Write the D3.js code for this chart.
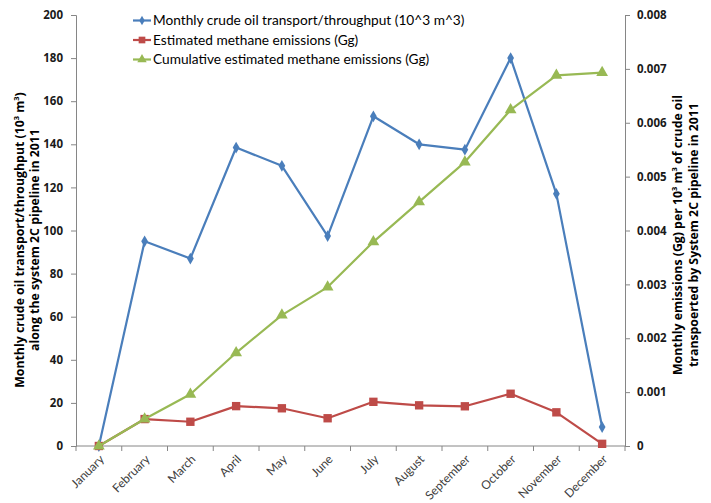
<!DOCTYPE html>
<html>
<head>
<meta charset="utf-8">
<script src="https://cdn.jsdelivr.net/npm/d3@7"></script>
<style>
  html, body { margin: 0; padding: 0; background: #fff; }
  svg { display: block; }
</style>
</head>
<body>
<svg id="chart" width="711" height="503"></svg>
<script>
// Monthly data for the System 2C pipeline, 2011
const months = ["January", "February", "March", "April", "May", "June", "July",
  "August", "September", "October", "November", "December"];
const throughput = [0, 95, 87, 138.5, 130, 97.4, 153, 140, 137.5, 180, 117, 8.8];
const emissions = [0, 0.0005, 0.00045, 0.00074, 0.0007, 0.000515, 0.00082,
  0.000755, 0.000737, 0.00097, 0.000625, 0.00004];
const cumulative = [0, 0.0005, 0.00096, 0.00173, 0.00243, 0.00295, 0.00379,
  0.00453, 0.00527, 0.00624, 0.00688, 0.00693];
const leftTicks = [0, 20, 40, 60, 80, 100, 120, 140, 160, 180, 200];
const rightTicks = [0, 0.001, 0.002, 0.003, 0.004, 0.005, 0.006, 0.007, 0.008];
const seriesNames = [
  "Monthly crude oil transport/throughput (10^3 m^3)",
  "Estimated methane emissions (Gg)",
  "Cumulative estimated methane emissions (Gg)"
];

const svg = d3.select("#chart");
const plotL = 76, plotR = 625, plotT = 15, plotB = 446;
const axisColor = "#868686";
const font = "Lato, 'Open Sans', sans-serif";
const boldFont = "'Open Sans', Lato, sans-serif";
const colors = { blue: "#4A7EBB", red: "#BE4B48", green: "#98B954" };

const x = d3.scaleBand().domain(months).range([plotL, plotR]);
const xc = m => x(m) + x.bandwidth() / 2;
const yL = d3.scaleLinear().domain([0, 200]).range([plotB, plotT]);
const yR = d3.scaleLinear().domain([0, 0.008]).range([plotB, plotT]);

// Left axis
const gL = svg.append("g").attr("transform", `translate(${plotL},0)`)
  .call(d3.axisLeft(yL).tickValues(leftTicks).tickSize(5).tickPadding(8).tickFormat(d3.format("d")));
// Right axis
const gR = svg.append("g").attr("transform", `translate(${plotR},0)`)
  .call(d3.axisRight(yR).tickValues(rightTicks).tickSize(5).tickPadding(7)
    .tickFormat(d => d === 0 ? "0" : d3.format(".3f")(d)));
[gL, gR].forEach(g => {
  g.select(".domain").attr("stroke", axisColor);
  g.selectAll(".tick line").attr("stroke", axisColor);
  g.selectAll(".tick text").attr("fill", "#1a1a1a").style("font-family", boldFont)
    .style("font-size", "11.5px").style("font-weight", "bold");
});

// Category axis, ticks at band boundaries
const gX = svg.append("g").attr("transform", `translate(0,${plotB})`);
gX.append("line").attr("x1", plotL).attr("x2", plotR).attr("stroke", axisColor);
const boundaries = months.map(m => x(m)).concat([plotR]);
gX.selectAll("line.tk").data(boundaries).join("line").attr("class", "tk")
  .attr("x1", d => d).attr("x2", d => d).attr("y1", 0).attr("y2", 5).attr("stroke", axisColor);
gX.selectAll("text").data(months).join("text")
  .attr("transform", d => `translate(${xc(d) + 3},${11}) rotate(-45)`)
  .attr("text-anchor", "end").attr("dy", "0.35em")
  .style("font-family", font).style("font-size", "12px").attr("fill", "#404040")
  .text(d => d);

// Axis titles
const titleL = svg.append("text").attr("transform", "translate(24,240) rotate(-90)")
  .attr("text-anchor", "middle").style("font-family", boldFont).style("font-size", "12.3px")
  .style("font-weight", "bold").attr("fill", "#000");
titleL.append("tspan").attr("x", 0).attr("dy", 0).text("Monthly crude oil transport/throughput  (10");
titleL.append("tspan").attr("dy", -5).style("font-size", "7.5px").text("3");
titleL.append("tspan").attr("dy", 5).text(" m");
titleL.append("tspan").attr("dy", -5).style("font-size", "7.5px").text("3");
titleL.append("tspan").attr("dy", 5).text(")");
titleL.append("tspan").attr("x", 0).attr("dy", 15).text("along the system 2C pipeline in 2011");

const titleR = svg.append("text").attr("transform", "translate(682,235) rotate(-90)")
  .attr("text-anchor", "middle").style("font-family", boldFont).style("font-size", "12.3px")
  .style("font-weight", "bold").attr("fill", "#000");
titleR.append("tspan").attr("x", 0).attr("dy", 0).text("Monthly emissions (Gg) per 10");
titleR.append("tspan").attr("dy", -5).style("font-size", "7.5px").text("3");
titleR.append("tspan").attr("dy", 5).text(" m");
titleR.append("tspan").attr("dy", -5).style("font-size", "7.5px").text("3");
titleR.append("tspan").attr("dy", 5).text("  of crude oil");
titleR.append("tspan").attr("x", 0).attr("dy", 16).text("transpoerted by System 2C pipeline in 2011");

// Series
const diamond = d3.symbol().type(d3.symbolDiamond).size(40);
const square = d3.symbol().type(d3.symbolSquare).size(70);
const triangle = d3.symbol().type(d3.symbolTriangle).size(60);

function drawSeries(values, yScale, color, sym) {
  const pts = values.map((v, i) => [xc(months[i]), yScale(v)]);
  svg.append("path").attr("d", d3.line()(pts)).attr("fill", "none")
    .attr("stroke", color).attr("stroke-width", 2.2).attr("stroke-linejoin", "round");
  svg.append("g").selectAll("path").data(pts).join("path")
    .attr("transform", d => `translate(${d[0]},${d[1]})`)
    .attr("d", sym()).attr("fill", color);
}
drawSeries(throughput, yL, colors.blue, diamond);
drawSeries(emissions, yR, colors.red, square);
drawSeries(cumulative, yR, colors.green, triangle);

// Legend
const legend = svg.append("g").attr("transform", "translate(133,20.5)");
const legendItems = [
  { name: seriesNames[0], color: colors.blue, sym: diamond },
  { name: seriesNames[1], color: colors.red, sym: square },
  { name: seriesNames[2], color: colors.green, sym: triangle }
];
const li = legend.selectAll("g").data(legendItems).join("g")
  .attr("transform", (d, i) => `translate(0,${i * 19.5})`);
li.append("line").attr("x1", 0).attr("x2", 18).attr("stroke", d => d.color).attr("stroke-width", 2.2);
li.append("path").attr("transform", "translate(9,0) scale(0.8)").attr("d", d => d.sym()).attr("fill", d => d.color);
li.append("text").attr("x", 20).attr("dy", "0.35em").style("font-family", font)
  .style("font-size", "13.7px").attr("fill", "#000").text(d => d.name);
</script>
</body>
</html>
